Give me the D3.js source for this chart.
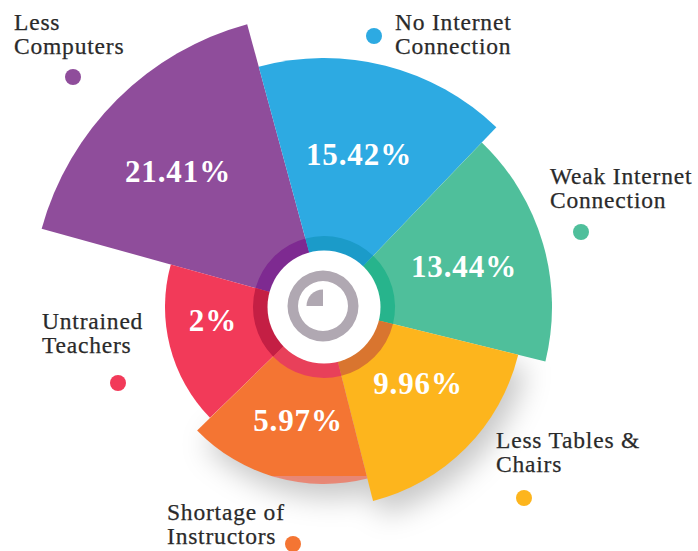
<!DOCTYPE html>
<html><head><meta charset="utf-8">
<script src="https://cdn.jsdelivr.net/npm/d3@7/dist/d3.min.js"></script>
<style>html,body{margin:0;padding:0;background:#fff}svg{display:block}
text{font-family:"Liberation Serif",serif}</style></head>
<body><svg id="c" width="698" height="551"></svg>
<script>
const categories=["Less Computers","No Internet Connection","Weak Internet Connection","Less Tables & Chairs","Shortage of Instructors","Untrained Teachers"];
const shares=[21.41,15.42,13.44,9.96,5.97,2];
const shareLabels=["21.41%","15.42%","13.44%","9.96%","5.97%","2%"];
const sweeps=[59.3,59,60,62,60,59.7];
const colors=["#8F4D9B","#2DAAE2","#4FBF9B","#FDB51D","#F47533","#F23A59"];
const ringColors=["#7E2A91","#1B9BC9","#27B48C","#D9752F","#E8405A","#C41F44"];
// layout of text and dots (not data)
const nameLines=[["Less","Computers"],["No Internet","Connection"],["Weak Internet","Connection"],["Less Tables &","Chairs"],["Shortage of","Instructors"],["Untrained","Teachers"]];
const nameAt=[[14,30],[395,30],[550,184],[496,448],[167,520],[42,329]];
const dotAt=[[73,77],[374,36],[581,232],[524,498],[293,544],[118,383]];
const valueAt=[[178,172],[359,155],[464,267],[418,384],[298,421],[213,321]];
const cx=324,cy=307;

const svg=d3.select("#c");
const defs=svg.append("defs");
const f=defs.append("filter").attr("id","sh").attr("x","-30%").attr("y","-30%").attr("width","160%").attr("height","160%");
f.append("feGaussianBlur").attr("stdDeviation",14);
defs.append("clipPath").attr("id","above").append("rect").attr("width",698).attr("height",476);
defs.append("clipPath").attr("id","below").append("rect").attr("y",476).attr("width",698).attr("height",75);

const radius=d3.scaleLinear().domain([2,5.97,9.96,13.44,15.42,21.41]).range([159,177,200,228,249,293]);
const deg=Math.PI/180;
const pie=d3.pie().sort(null).value(d=>d).startAngle(-74.5*deg).endAngle(285.5*deg);
const arcs=pie(sweeps);
const sector=d3.arc().innerRadius(0).outerRadius((d)=>radius(shares[d.index]));
const ring=d3.arc().innerRadius(50).outerRadius(71);

// soft shadow under the lower sectors
svg.append("g").attr("transform",`translate(${cx+8},${cy+14})`).attr("filter","url(#sh)")
  .selectAll("path").data(arcs.filter(d=>d.index>=3&&d.index<=4)).join("path")
  .attr("d",sector).attr("fill","#000").attr("opacity",.22);
const lay=svg.append("g").attr("transform",`translate(${cx},${cy})`);
lay.selectAll("path.s").data(arcs.filter(d=>d.index!==4)).join("path").attr("class","s")
  .attr("d",sector).attr("fill",d=>colors[d.index]);
// orange sector cut by the scan seam at the bottom of the picture
const orange=arcs[4];
svg.append("g").attr("clip-path","url(#above)").append("path")
  .attr("transform",`translate(${cx},${cy})`).attr("d",sector(orange)).attr("fill",colors[4]);
svg.append("g").attr("clip-path","url(#below)").append("path")
  .attr("transform",`translate(${cx},${cy})`).attr("d",sector(orange)).attr("fill","#F26A50").attr("opacity",.7);
// darker inner ring
svg.append("g").attr("transform",`translate(${cx},${cy})`).selectAll("path").data(arcs).join("path")
  .attr("d",ring).attr("fill",d=>ringColors[d.index]);
// hub
const hub=svg.append("g").attr("transform",`translate(${cx},${cy})`);
hub.append("circle").attr("r",56.5).attr("fill","#fff");
hub.append("path").attr("d",d3.arc().innerRadius(25).outerRadius(35.5).startAngle(0).endAngle(2*Math.PI)()).attr("fill","#B0A8B2").attr("transform","translate(-1,-1)");
hub.append("path").attr("d",d3.arc().innerRadius(0).outerRadius(16.5).startAngle(-Math.PI/2).endAngle(0)()).attr("fill","#B0A8B2").attr("transform","translate(-1,-1)");
// value labels
svg.append("g").selectAll("text").data(shareLabels).join("text")
  .attr("x",(d,i)=>valueAt[i][0]).attr("y",(d,i)=>valueAt[i][1]+10)
  .attr("text-anchor","middle").attr("fill","#fff").attr("font-size",31).attr("font-weight",700)
  .attr("letter-spacing",.9).text(d=>d);
// dots
svg.append("g").selectAll("circle").data(categories).join("circle")
  .attr("cx",(d,i)=>dotAt[i][0]).attr("cy",(d,i)=>dotAt[i][1]).attr("r",8).attr("fill",(d,i)=>colors[i]);
// names
const nm=svg.append("g").selectAll("text").data(categories).join("text")
  .attr("fill","#2a2a2a").attr("stroke","#2a2a2a").attr("stroke-width",.25).attr("font-size",23.5).attr("letter-spacing",.8);
nm.each(function(d,i){
  d3.select(this).selectAll("tspan").data(nameLines[i]).join("tspan")
    .attr("x",nameAt[i][0]).attr("y",(t,j)=>nameAt[i][1]+j*24).text(t=>t);
});
</script></body></html>
